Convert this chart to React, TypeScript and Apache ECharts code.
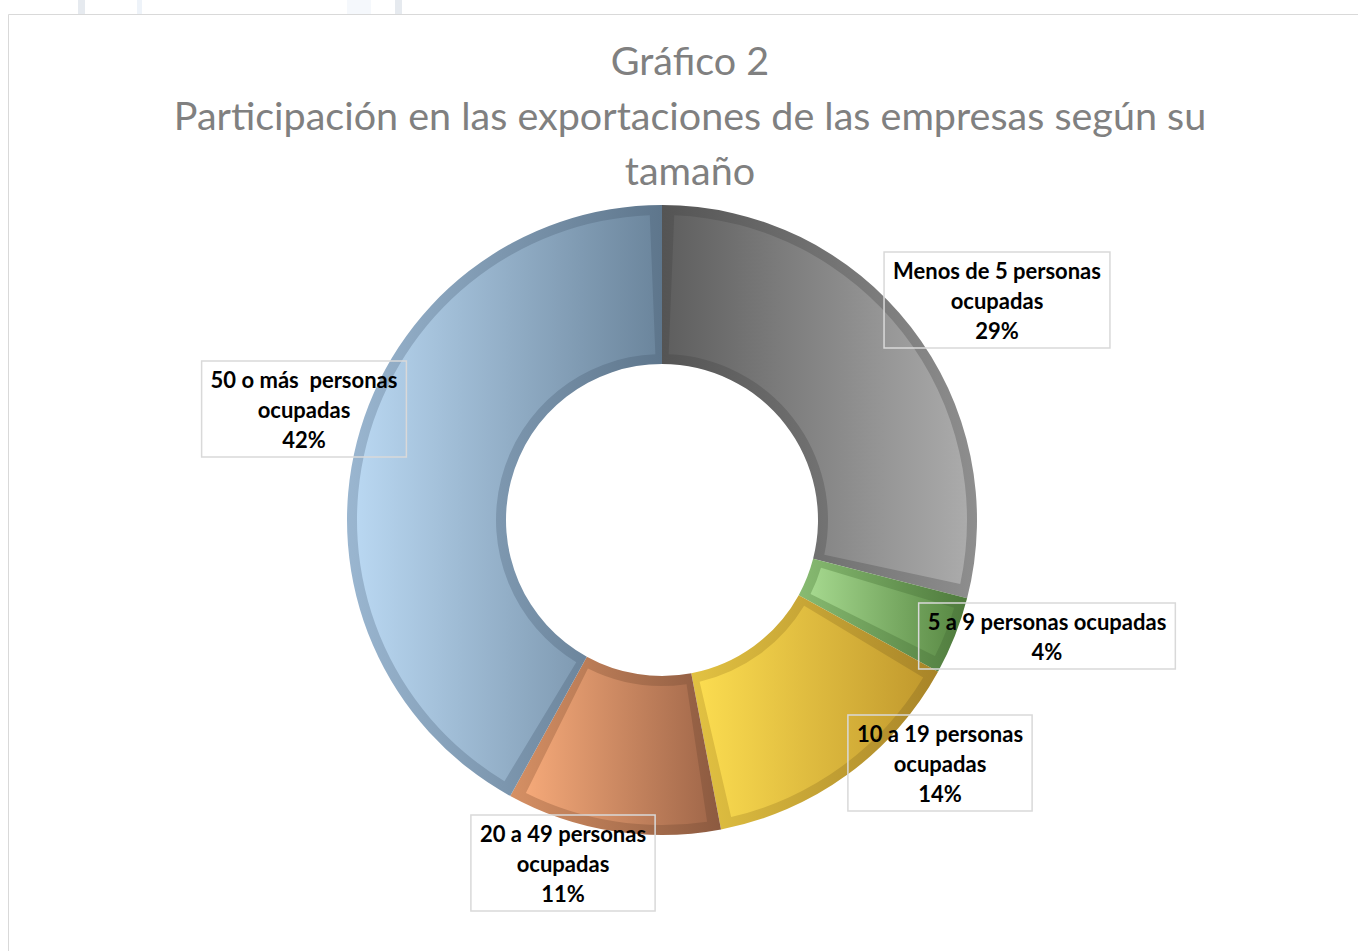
import React, { useEffect, useRef } from "react";
import * as echarts from "echarts";

const categories = [
  "Menos de 5 personas\nocupadas",
  "5 a 9 personas ocupadas",
  "10 a 19 personas\nocupadas",
  "20 a 49 personas\nocupadas",
  "50 o más  personas\nocupadas",
];
const values = [29, 4, 14, 11, 42];

const fillColors: [string, string][] = [
  ["#5f5f5f", "#ababab"],
  ["#a5d88e", "#5b8b46"],
  ["#fbdc50", "#c29a2e"],
  ["#f5a979", "#a3694b"],
  ["#b9d7f1", "#6c869d"],
];
const borderColors: [string, string][] = [
  ["#545454", "#8e8e8e"],
  ["#88bb72", "#4e7a3c"],
  ["#e2c242", "#a88428"],
  ["#d69064", "#8c5a40"],
  ["#9ab6d0", "#5e768c"],
];
const labelCenters: [number, number][] = [
  [997, 300],
  [1047, 636],
  [940, 763],
  [563, 863],
  [304, 409],
];

const grad = (c: [string, string]) =>
  new echarts.graphic.LinearGradient(0, 0, 1, 0, [
    { offset: 0, color: c[0] },
    { offset: 1, color: c[1] },
  ]);

export default function App() {
  const ref = useRef<HTMLDivElement>(null);
  useEffect(() => {
    if (!ref.current) return;
    const chart = echarts.init(ref.current, null, { renderer: "svg" });
    const font = "Lato, 'Open Sans', sans-serif";
    chart.setOption({
      animation: false,
      backgroundColor: "#ffffff",
      graphic: [
        { type: "rect", shape: { x: 78, y: 0, width: 7, height: 14 }, style: { fill: "#e6eaef" }, silent: true },
        { type: "rect", shape: { x: 137, y: 0, width: 5, height: 14 }, style: { fill: "#eef3f9" }, silent: true },
        { type: "rect", shape: { x: 347, y: 0, width: 24, height: 14 }, style: { fill: "#f5f8fc" }, silent: true },
        { type: "rect", shape: { x: 395, y: 0, width: 7, height: 14 }, style: { fill: "#e6eaef" }, silent: true },
        {
          type: "rect",
          shape: { x: 8.5, y: 14.5, width: 1400, height: 1000 },
          style: { fill: "none", stroke: "#d9d9d9", lineWidth: 1 },
          silent: true,
        },
        {
          type: "text",
          x: 690,
          y: 32,
          silent: true,
          style: {
            text:
              "Gráfico 2\nParticipación en las exportaciones de las empresas según su\ntamaño",
            fill: "#808080",
            font: `39.5px ${font}`,
            lineHeight: 55,
            align: "center",
            verticalAlign: "top",
          },
        },
      ],
      series: [
        {
          type: "pie",
          silent: true,
          center: [662, 520],
          radius: [156, 315],
          startAngle: 90,
          clockwise: true,
          label: { show: false },
          labelLine: { show: false },
          data: categories.map((name, i) => ({
            name,
            value: values[i],
            itemStyle: { color: grad(borderColors[i]) },
          })),
        },
        {
          type: "pie",
          silent: true,
          center: [662, 520],
          radius: [166, 305],
          startAngle: 90,
          clockwise: true,
          padAngle: 4.6,
          labelLine: { show: false },
          label: {
            show: true,
            position: "outside",
            formatter: (p: any) => `${p.name}\n${p.value}%`,
            fontFamily: font,
            fontWeight: "bold",
            fontSize: 22,
            lineHeight: 30,
            color: "#000000",
            align: "center",
            borderColor: "#d9d9d9",
            borderWidth: 1.5,
            padding: [3, 9, 3, 9],
          },
          labelLayout: (params: any) => {
            const c = labelCenters[params.dataIndex];
            return { x: c[0], y: c[1], align: "center", verticalAlign: "middle" };
          },
          data: categories.map((name, i) => ({
            name,
            value: values[i],
            itemStyle: { color: grad(fillColors[i]) },
          })),
        },
      ],
    });
    return () => chart.dispose();
  }, []);
  return (
    <div
      ref={ref}
      style={{ position: "absolute", left: 0, top: 0, width: 1358, height: 951 }}
    />
  );
}
